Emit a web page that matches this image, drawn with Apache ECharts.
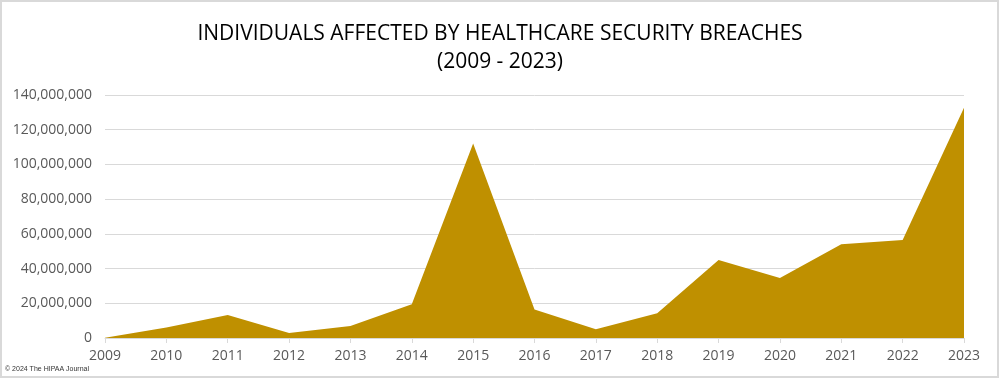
<!DOCTYPE html>
<html>
<head>
<meta charset="utf-8">
<script src="https://cdn.jsdelivr.net/npm/echarts@6/dist/echarts.min.js"></script>
<style>
html,body{margin:0;padding:0;background:#fff;}
#c{width:1000px;height:379px;}
</style>
</head>
<body>
<div id="c"></div>
<script>
const years = ['2009','2010','2011','2012','2013','2014','2015','2016','2017','2018','2019','2020','2021','2022','2023'];
const affected = [135000, 6000000, 13200000, 2900000, 6900000, 19500000, 112000000, 16400000, 5100000, 14300000, 44900000, 34500000, 54000000, 56400000, 132600000];
const titleText = 'INDIVIDUALS AFFECTED BY HEALTHCARE SECURITY BREACHES\n(2009 - 2023)';
const credit = '© 2024 The HIPAA Journal';

const chart = echarts.init(document.getElementById('c'), null, {renderer:'canvas'});
chart.setOption({
  animation:false,
  backgroundColor:'#fff',
  title:{
    text:titleText,
    left:'center',
    top:15,
    textStyle:{fontFamily:'Open Sans',fontSize:21,fontWeight:'normal',color:'#000',lineHeight:28}
  },
  graphic:[
    {type:'rect',shape:{x:1,y:1,width:997,height:376},style:{fill:'none',stroke:'#d9d9d9',lineWidth:2},silent:true},
    {type:'text',left:5,top:366,style:{text:credit,fontSize:7,fill:'#333',fontFamily:'Liberation Sans'}}
  ],
  grid:{left:105,right:36,top:95,bottom:41,containLabel:false},
  xAxis:{
    type:'category',
    data:years,
    boundaryGap:false,
    axisLine:{lineStyle:{color:'#d9d9d9',width:1}},
    axisTick:{show:true,alignWithLabel:true,length:5,lineStyle:{color:'#d9d9d9'}},
    axisLabel:{color:'#595959',fontSize:14,fontFamily:'Open Sans',margin:11}
  },
  yAxis:{
    type:'value',
    min:0,max:140000000,interval:20000000,
    axisLine:{show:false},
    axisTick:{show:false},
    splitLine:{lineStyle:{color:'#d9d9d9',width:1}},
    axisLabel:{color:'#595959',fontSize:14,fontFamily:'Open Sans',margin:13,
      formatter:v=>v.toLocaleString('en-US')}
  },
  series:[{
    type:'line',
    data:affected,
    symbol:'none',
    lineStyle:{width:0,color:'#bf9000'},
    itemStyle:{color:'#bf9000'},
    areaStyle:{color:'#bf9000',opacity:1}
  }]
});
</script>
</body>
</html>
